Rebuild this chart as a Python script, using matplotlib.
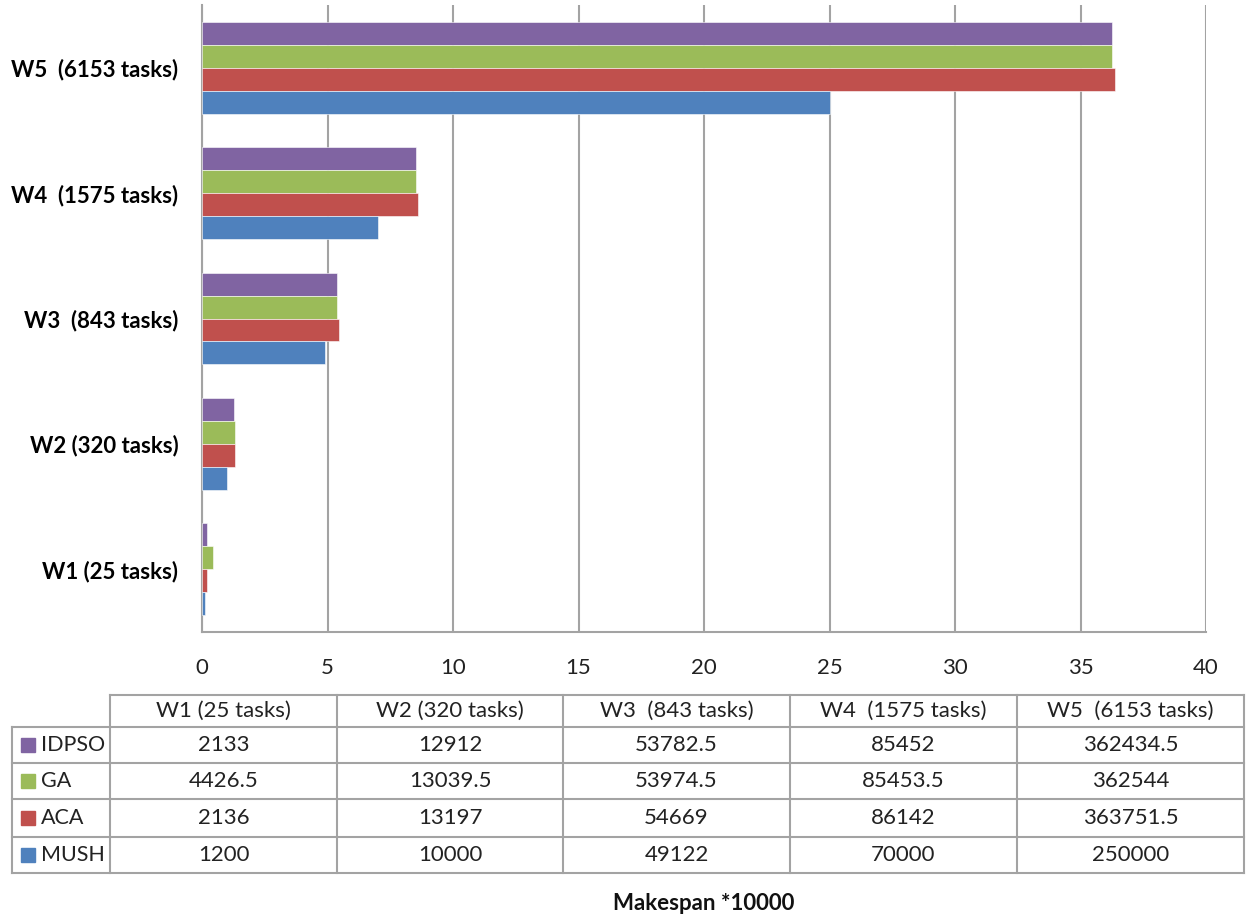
import numpy as np
import matplotlib
matplotlib.use("Agg")
import matplotlib.pyplot as plt

plt.rcParams['font.family'] = ['Lato', 'DejaVu Sans']

workflows = ["W1 (25 tasks)", "W2 (320 tasks)", "W3  (843 tasks)", "W4  (1575 tasks)", "W5  (6153 tasks)"]
algorithms = ["IDPSO", "GA", "ACA", "MUSH"]
idpso = [2133, 12912, 53782.5, 85452, 362434.5]
ga = [4426.5, 13039.5, 53974.5, 85453.5, 362544]
aca = [2136, 13197, 54669, 86142, 363751.5]
mush = [1200, 10000, 49122, 70000, 250000]
colors = ["#8064A2", "#9BBB59", "#C0504D", "#4F81BD"]
scale = 10000
x_ticks = [0, 5, 10, 15, 20, 25, 30, 35, 40]

series = [idpso, ga, aca, mush]
grey = "#a3a3a3"


def fmt(v):
    return str(int(v)) if float(v).is_integer() else str(v)


W, H = 1250, 919
fig = plt.figure(figsize=(W / 100, H / 100), dpi=100)

# main bar axes (pixel layout: x 202..1206, y 5..632)
ax = fig.add_axes([202 / W, (H - 632) / H, 1004 / W, 627 / H])
y = np.arange(len(workflows))
h = 0.183
for i, (name, vals, c) in enumerate(zip(algorithms, series, colors)):
    ax.barh(y + (1.5 - i) * h, np.array(vals) / scale, height=h, color=c,
            edgecolor="white", linewidth=0.4, label=name, zorder=3)

ax.set_xlim(0, 40)
ax.set_ylim(-0.5, 4.5)
ax.set_xticks(x_ticks)
ax.set_yticks(y)
ax.set_yticklabels(workflows, fontweight="bold", fontsize=16)
ax.tick_params(axis="x", length=0, pad=19, labelsize=16, labelcolor="#222222")
ax.tick_params(axis="y", length=0, pad=17)
ax.grid(axis="x", color=grey, linewidth=1.5, zorder=0)
for s in ["top", "right"]:
    ax.spines[s].set_visible(False)
for s in ["left", "bottom"]:
    ax.spines[s].set_color(grey)
    ax.spines[s].set_linewidth(1.5)

# data table drawn underneath in pixel coordinates
tax = fig.add_axes([0, 0, 1, 1])
tax.set_xlim(0, W)
tax.set_ylim(H, 0)
tax.axis("off")

col_edges = [110, 337, 563, 790, 1017, 1244]
row_edges = [695, 727, 763, 799, 837, 873]
left = 12
lkw = dict(color=grey, linewidth=1.5)

# horizontal lines
tax.plot([col_edges[0], col_edges[-1]], [row_edges[0]] * 2, **lkw)
for ry in row_edges[1:]:
    tax.plot([left, col_edges[-1]], [ry] * 2, **lkw)
# vertical lines
tax.plot([left, left], [row_edges[1], row_edges[-1]], **lkw)
for cx in col_edges:
    tax.plot([cx, cx], [row_edges[0], row_edges[-1]], **lkw)

tcol = "#222222"
for j, wf in enumerate(workflows):
    cx = (col_edges[j] + col_edges[j + 1]) / 2
    tax.text(cx, (row_edges[0] + row_edges[1]) / 2, wf, ha="center", va="center",
             fontsize=16, color=tcol)
for i, (name, vals, c) in enumerate(zip(algorithms, series, colors)):
    cy = (row_edges[i + 1] + row_edges[i + 2]) / 2
    tax.add_patch(plt.Rectangle((21, cy - 7), 14, 14, color=c))
    tax.text(41, cy, name, ha="left", va="center", fontsize=15.5, color=tcol)
    for j, v in enumerate(vals):
        cx = (col_edges[j] + col_edges[j + 1]) / 2
        tax.text(cx, cy, fmt(v), ha="center", va="center", fontsize=16, color=tcol)

tax.text(704, 903, "Makespan *10000", ha="center", va="center", fontsize=16,
         fontweight="bold", color="#111111")

fig.savefig("out.png", dpi=100)
